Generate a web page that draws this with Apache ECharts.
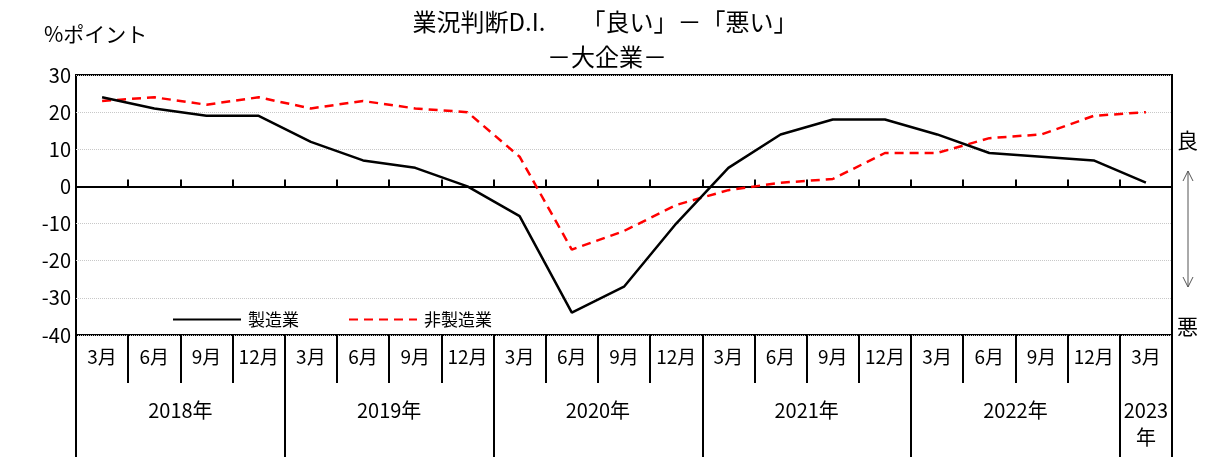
<!DOCTYPE html>
<html><head><meta charset="utf-8">
<script src="https://cdn.jsdelivr.net/npm/echarts@6/dist/echarts.min.js"></script>
<style>html,body{margin:0;padding:0;background:#fff}#c{width:1206px;height:457px}</style>
</head><body><div id="c"></div>
<script>
const months = ['3月','6月','9月','12月','3月','6月','9月','12月','3月','6月','9月','12月','3月','6月','9月','12月','3月','6月','9月','12月','3月'];
const years = ['2018年','2019年','2020年','2021年','2022年','2023\n年'];
const yearQuarters = [4,4,4,4,4,1];
const manufacturing = [24,21,19,19,12,7,5,0,-8,-34,-27,-10,5,14,18,18,14,9,8,7,1];
const nonManufacturing = [23,24,22,24,21,23,21,20,8,-17,-12,-5,-1,1,2,9,9,13,14,19,20];
const seriesNames = ['製造業','非製造業'];
const yMin = -40, yMax = 30, yStep = 10;

const FONT = '"Noto Sans CJK JP", sans-serif';
const yearBounds = [0];
yearQuarters.forEach(q => yearBounds.push(yearBounds[yearBounds.length-1] + q));
const yearMids = yearQuarters.map((q,i) => yearBounds[i] + q/2);

const chart = echarts.init(document.getElementById('c'), null, {renderer:'canvas'});
chart.setOption({
  animation:false,
  textStyle:{fontFamily:FONT, color:'#000'},
  title:[
    {text:'業況判断D.I.　　「良い」－「悪い」', left:600, top:5, textAlign:'center', textStyle:{fontFamily:FONT, fontSize:24, fontWeight:'normal', color:'#000'}},
    {text:'－大企業－', left:602, top:40, textAlign:'center', textStyle:{fontFamily:FONT, fontSize:24, fontWeight:'normal', color:'#000'}},
    {text:'%ポイント', left:39, top:19, textStyle:{fontFamily:FONT, fontSize:21, fontWeight:'normal', color:'#000'}}
  ],
  legend:{
    left:167, top:306, itemWidth:68, itemHeight:14, itemGap:49,
    itemStyle:{opacity:0},
    textStyle:{fontFamily:FONT, fontSize:17, color:'#000', padding:[0,0,0,2]},
    data:seriesNames
  },
  grid:{left:76, right:34, top:75, bottom:122, show:true, borderColor:'#000', borderWidth:2, backgroundColor:'transparent', containLabel:false},
  xAxis:[
    {type:'category', data:months, boundaryGap:true, position:'bottom',
     axisLine:{onZero:true, lineStyle:{color:'#000', width:2}},
     axisTick:{show:true, inside:true, length:7, lineStyle:{color:'#000', width:2}},
     axisLabel:{show:false}, splitLine:{show:false}},
    {type:'category', data:months, boundaryGap:true, position:'bottom',
     axisLine:{show:false, onZero:false},
     axisTick:{show:true, inside:false, length:48, lineStyle:{color:'#000', width:2}},
     axisLabel:{show:true, margin:12, fontSize:19, color:'#000', fontFamily:FONT, interval:0},
     splitLine:{show:false}},
    {type:'value', min:0, max:yearBounds[yearBounds.length-1], position:'bottom',
     axisLine:{show:false, onZero:false},
     axisTick:{show:true, inside:false, length:125, customValues:yearBounds, lineStyle:{color:'#000', width:2}},
     axisLabel:{show:true, margin:62, fontSize:20, lineHeight:27, color:'#000', fontFamily:FONT,
       customValues:yearMids,
       formatter:function(v){ const i = yearMids.indexOf(v); return i>=0 ? years[i] : ''; }},
     splitLine:{show:false}}
  ],
  yAxis:{type:'value', min:yMin, max:yMax, interval:yStep,
    axisLine:{show:false}, axisTick:{show:false},
    axisLabel:{fontSize:20, color:'#000', fontFamily:FONT, margin:5},
    splitLine:{show:true, lineStyle:{color:'#c8c8c8', width:1, type:'dotted'}}},
  series:[
    {name:seriesNames[0], type:'line', xAxisIndex:0, data:manufacturing, symbol:'none', smooth:false,
     lineStyle:{color:'#000', width:2.5}, itemStyle:{color:'#000'}, z:3},
    {name:seriesNames[1], type:'line', xAxisIndex:0, data:nonManufacturing, symbol:'none', smooth:false,
     lineStyle:{color:'#ff0000', width:2.5, type:[9,6]}, itemStyle:{color:'#ff0000'}, z:2}
  ],
  graphic:[
    {type:'text', left:1177, top:130, style:{text:'良', fontSize:21, fontFamily:FONT, fill:'#000'}},
    {type:'text', left:1177, top:316, style:{text:'悪', fontSize:21, fontFamily:FONT, fill:'#000'}},
    {type:'line', shape:{x1:1188, y1:171, x2:1188, y2:287}, style:{stroke:'#555', lineWidth:1}},
    {type:'polyline', shape:{points:[[1183,181],[1188,171],[1193,181]]}, style:{stroke:'#555', lineWidth:1, fill:null}},
    {type:'polyline', shape:{points:[[1183,277],[1188,287],[1193,277]]}, style:{stroke:'#555', lineWidth:1, fill:null}}
  ]
});
</script></body></html>
